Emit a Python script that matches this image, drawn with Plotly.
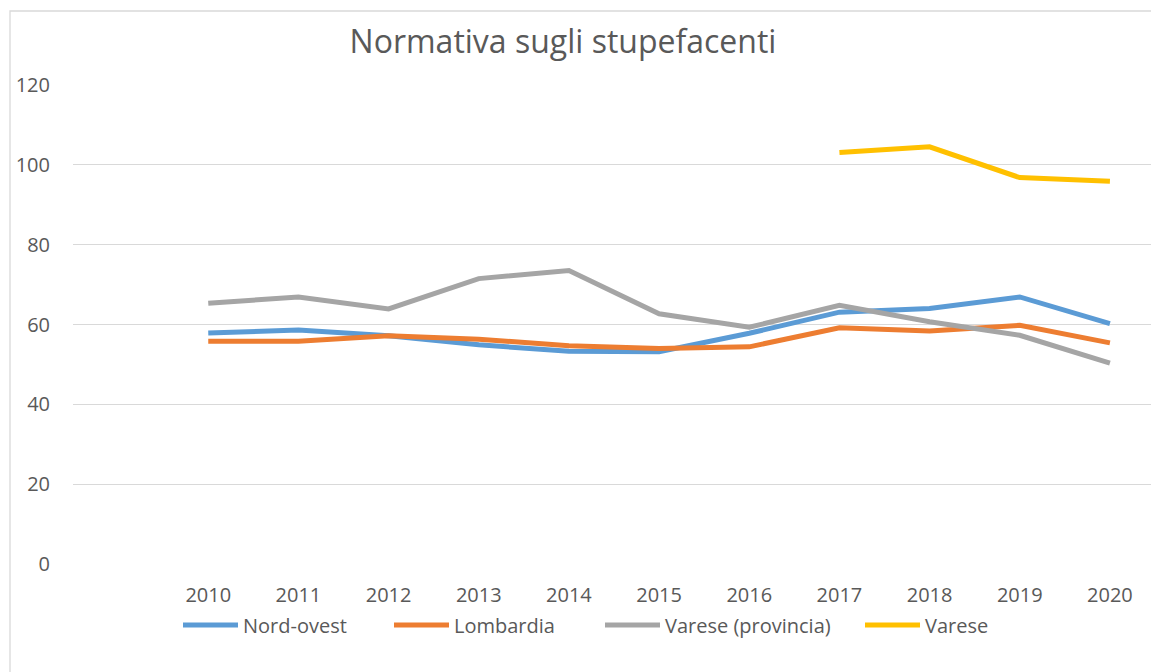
import plotly.graph_objects as go

years = [2010, 2011, 2012, 2013, 2014, 2015, 2016, 2017, 2018, 2019, 2020]
nord_ovest = [57.9, 58.6, 57.2, 54.9, 53.3, 53.2, 57.8, 63.1, 64.0, 66.9, 60.2]
lombardia = [55.8, 55.8, 57.2, 56.3, 54.7, 54.0, 54.4, 59.2, 58.4, 59.8, 55.4]
varese_prov = [65.3, 66.9, 63.9, 71.5, 73.5, 62.7, 59.3, 64.8, 60.7, 57.3, 50.3]
varese_years = [2017, 2018, 2019, 2020]
varese = [103.1, 104.5, 96.8, 95.9]
y_ticks = [0, 20, 40, 60, 80, 100, 120]

series = [
    ("Nord-ovest", years, nord_ovest, "#5B9BD5"),
    ("Lombardia", years, lombardia, "#ED7D31"),
    ("Varese (provincia)", years, varese_prov, "#A5A5A5"),
    ("Varese", varese_years, varese, "#FFC000"),
]
legend_ids = ["legend", "legend2", "legend3", "legend4"]
legend_left_px = [178, 389, 600, 860]

fig = go.Figure()
for (name, xs, ys, col), lid in zip(series, legend_ids):
    fig.add_trace(go.Scatter(x=xs, y=ys, name=name, mode="lines", legend=lid,
                             line=dict(color=col, width=5)))

# page is offset by the 8px body margin
OFF = 8
W, H = 1159 - OFF, 672 - OFF
L, R, T, B = 73 - OFF, 4, 85 - OFF, 672 - 564
pw, ph = W - L - R, H - T - B

def px_x(p):
    return (p - OFF - L) / pw

def px_y(p):
    return (H - B - (p - OFF)) / ph

font_col = "#595959"
fam = "Open Sans, Noto Sans, sans-serif"

fig.update_layout(
    width=W, height=H,
    margin=dict(l=L, r=R, t=T, b=B),
    paper_bgcolor="white", plot_bgcolor="white",
    font=dict(family=fam, color=font_col, size=20),
    title=dict(text="Normativa sugli stupefacenti", x=(563 - OFF) / W, xanchor="center",
               xref="container", y=1 - (42 - OFF) / H, yanchor="middle", yref="container",
               font=dict(size=32, color=font_col, family=fam)),
    xaxis=dict(range=[2008.5, 2020.5], tickvals=years, ticktext=[str(y) for y in years],
               showgrid=False, zeroline=False, showline=False, ticks="",
               ticklabelstandoff=17, tickfont=dict(size=20, color=font_col)),
    yaxis=dict(range=[0, 120], tickvals=y_ticks, showgrid=True, gridcolor="#D9D9D9",
               gridwidth=1, zeroline=False, showline=False, ticks="",
               ticklabelstandoff=22, tickfont=dict(size=20, color=font_col)),
    showlegend=True,
)

for lid, lx in zip(legend_ids, legend_left_px):
    fig.update_layout({lid: dict(orientation="h", x=px_x(lx), xanchor="left",
                                 y=px_y(625), yanchor="middle",
                                 font=dict(size=20, color=font_col), itemwidth=55,
                                 bgcolor="rgba(0,0,0,0)")})

fig.add_shape(type="rect", xref="paper", yref="paper",
              x0=px_x(10), x1=px_x(1175), y0=px_y(700), y1=px_y(11),
              line=dict(color="#D9D9D9", width=1.3), fillcolor="rgba(0,0,0,0)", layer="below")

fig.write_html("out.html")
